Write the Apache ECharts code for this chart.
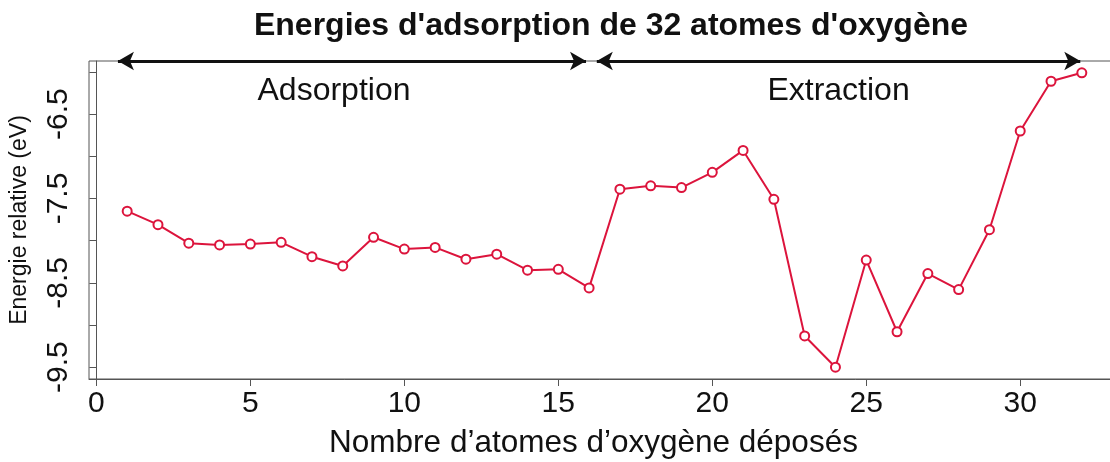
<!DOCTYPE html>
<html>
<head>
<meta charset="utf-8">
<script src="https://cdn.jsdelivr.net/npm/echarts@6/dist/echarts.min.js"></script>
<style>
  html, body { margin: 0; padding: 0; background: #fff; }
  #chart { width: 1110px; height: 462px; }
</style>
</head>
<body>
<div id="chart"></div>
<script>
// nombre d'atomes deposes (1..32) et energie relative (eV)
const atoms = [1, 2, 3, 4, 5, 6, 7, 8, 9, 10, 11, 12, 13, 14, 15, 16,
               17, 18, 19, 20, 21, 22, 23, 24, 25, 26, 27, 28, 29, 30, 31, 32];
const energies = [-7.65, -7.81, -8.03, -8.05, -8.04, -8.02, -8.19, -8.30,
                  -7.96, -8.10, -8.08, -8.22, -8.16, -8.35, -8.34, -8.56,
                  -7.39, -7.35, -7.37, -7.19, -6.93, -7.51, -9.13, -9.50,
                  -8.23, -9.08, -8.39, -8.58, -7.87, -6.70, -6.11, -6.01];

const xTicks = [0, 5, 10, 15, 20, 25, 30];
const yTicks = [-9.5, -9, -8.5, -8, -7.5, -7, -6.5, -6];
const yLabels = [-9.5, -8.5, -7.5, -6.5];

// fleches du haut : debut, fin, texte
const arrowStart = [0.70, 16.25];
const arrowEnd = [15.9, 31.95];
const arrowText = ['Adsorption', 'Extraction'];
const textShift = [-18, 0];

const xMin = -0.24, xMax = 33.24;
const yMin = -9.64, yMax = -5.87;

const red = '#dc143c';
const axisGrey = '#555';
const font = 'Liberation Sans, Arial, Helvetica, sans-serif';

const chart = echarts.init(document.getElementById('chart'));

const option = {
    animation: false,
    backgroundColor: '#fff',
    textStyle: { fontFamily: font },
    title: {
        text: "Energies d'adsorption de 32 atomes d'oxygène",
        left: 606,
        top: 5,
        textAlign: 'center',
        textStyle: { fontSize: 32, fontWeight: 'bold', color: '#111', fontFamily: font }
    },
    grid: {
        left: 89,
        top: 61,
        width: 1031,
        height: 318,
        show: true,
        borderColor: axisGrey,
        borderWidth: 1,
        containLabel: false,
        outerBoundsMode: 'none'
    },
    xAxis: {
        type: 'value',
        min: xMin,
        max: xMax,
        axisLine: { show: true, lineStyle: { color: axisGrey, width: 1 } },
        axisTick: { show: true, length: 7, customValues: xTicks, lineStyle: { color: axisGrey } },
        axisLabel: { customValues: xTicks, fontSize: 30, color: '#111', margin: 10, fontFamily: font },
        splitLine: { show: false },
        name: 'Nombre d’atomes d’oxygène déposés',
        nameLocation: 'middle',
        nameGap: 48,
        nameTextStyle: { fontSize: 31.5, color: '#111', fontFamily: font, padding: [0, 22, 0, 0] }
    },
    yAxis: {
        type: 'value',
        min: yMin,
        max: yMax,
        axisLine: { show: true, lineStyle: { color: axisGrey, width: 1 } },
        axisTick: { show: true, length: 7, customValues: yTicks, lineStyle: { color: axisGrey } },
        axisLabel: {
            customValues: yLabels,
            rotate: 90,
            fontSize: 30,
            color: '#111',
            margin: 15,
            fontFamily: font,
            formatter: v => v.toFixed(1)
        },
        splitLine: { show: false },
        name: 'Energie relative (eV)',
        nameLocation: 'middle',
        nameGap: 58,
        nameRotate: 90,
        nameTextStyle: { fontSize: 23, color: '#111', fontFamily: font }
    },
    series: [{
        type: 'line',
        data: atoms.map((a, i) => [a, energies[i]]),
        clip: false,
        symbol: 'circle',
        symbolSize: 9,
        showAllSymbol: true,
        lineStyle: { color: red, width: 2 },
        itemStyle: { color: '#fff', borderColor: red, borderWidth: 2 },
        z: 3,
        markLine: {
            silent: true,
            symbol: ['arrow', 'arrow'],
            symbolSize: [14, 16],
            lineStyle: { color: '#111', width: 3, type: 'solid' },
            label: {
                show: true,
                position: 'middle',
                formatter: p => p.name,
                fontSize: 32,
                color: '#111',
                fontFamily: font,
                distance: -46
            },
            data: arrowText.map((t, i) => [
                { coord: [arrowStart[i], yMax], name: t, label: { offset: [textShift[i], 0] } },
                { coord: [arrowEnd[i], yMax] }
            ])
        }
    }]
};

chart.setOption(option);
</script>
</body>
</html>
